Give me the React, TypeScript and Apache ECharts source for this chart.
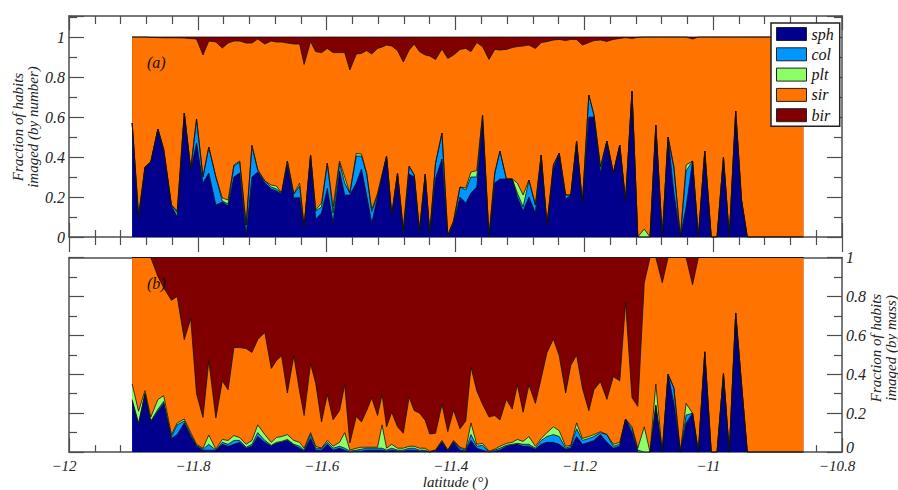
import React, { useEffect, useRef } from "react";
import * as echarts from "echarts";

// latitude of each sample (degrees)
const lat = [
  -11.902, -11.892, -11.882, -11.873, -11.862, -11.853, -11.841, -11.832, -11.821, -11.811,
  -11.802, -11.792, -11.783, -11.772, -11.762, -11.753, -11.744, -11.735, -11.725, -11.716,
  -11.707, -11.696, -11.686, -11.678, -11.67, -11.661, -11.651, -11.642, -11.635, -11.625,
  -11.617, -11.608, -11.599, -11.59, -11.58, -11.572, -11.564, -11.554, -11.546, -11.538,
  -11.53, -11.521, -11.514, -11.507, -11.499, -11.49, -11.481, -11.472, -11.464, -11.456,
  -11.447, -11.44, -11.431, -11.421, -11.412, -11.403, -11.393, -11.384, -11.376, -11.367,
  -11.358, -11.348, -11.339, -11.331, -11.321, -11.312, -11.304, -11.295, -11.286, -11.276,
  -11.267, -11.258, -11.248, -11.239, -11.229, -11.221, -11.212, -11.203, -11.193, -11.185,
  -11.175, -11.165, -11.155, -11.145, -11.136, -11.126, -11.117, -11.107, -11.098, -11.089,
  -11.079, -11.07, -11.061, -11.051, -11.042, -11.032, -11.023, -11.013, -11.003, -10.994,
  -10.984, -10.975, -10.965, -10.956, -10.947, -10.86,
];

// (a) fraction by number
const sphNum = [
  0.57, 0.09, 0.35, 0.375, 0.54, 0.43, 0.155, 0.1, 0.62, 0.335,
  0.47, 0.27, 0.32, 0.16, 0.175, 0.155, 0.3, 0.32, 0.01, 0.3,
  0.325, 0.27, 0.24, 0.23, 0.215, 0.36, 0.195, 0.197, 0.05, 0.41,
  0.09, 0.12, 0.243, 0.07, 0.33, 0.21, 0.21, 0.27, 0.34, 0.21,
  0.07, 0.2, 0.3, 0.405, 0.11, 0.32, 0.018, 0.315, 0.3, 0.015,
  0.315, 0.018, 0.293, 0.39, 0, 0.07, 0.2, 0.17, 0.22, 0.25,
  0.58, 0, 0.27, 0.29, 0.29, 0.29, 0.2, 0.13, 0.2, 0.12,
  0.41, 0.06, 0.34, 0.42, 0.19, 0.21, 0.48, 0.17, 0.6, 0.6,
  0.32, 0.48, 0.32, 0.46, 0.18, 0.73, 0, 0, 0, 0.56,
  0, 0.5, 0.22, 0, 0.15, 0.38, 0, 0.43, 0, 0,
  0.4, 0, 0.63, 0.185, 0, 0,
];
const colNum = [
  0, 0.01, 0, 0, 0, 0.01, 0.005, 0.025, 0, 0.005,
  0.12, 0.03, 0.13, 0.14, 0.005, 0.01, 0.055, 0.055, 0.05, 0.155,
  0.01, 0.01, 0.01, 0.01, 0.005, 0.02, 0.02, 0.058, 0, 0,
  0.04, 0.03, 0.127, 0.05, 0.04, 0.06, 0.01, 0.135, 0.065, 0.108,
  0.057, 0.01, 0.01, 0, 0, 0, 0.017, 0.037, 0.01, 0.02,
  0, 0, 0.075, 0.13, 0.01, 0.01, 0.05, 0.065, 0.08, 0.05,
  0.03, 0, 0.05, 0.14, 0, 0, 0.02, 0.02, 0.085, 0.04,
  0, 0, 0.02, 0, 0.02, 0, 0, 0, 0.11, 0.01,
  0.03, 0, 0, 0, 0, 0, 0, 0, 0, 0,
  0, 0, 0.13, 0, 0.18, 0, 0, 0, 0, 0,
  0, 0, 0, 0, 0, 0,
];
const pltNum = [
  0, 0.01, 0, 0, 0, 0, 0, 0.005, 0, 0,
  0, 0, 0, 0, 0.015, 0.02, 0.005, 0.005, 0, 0.005,
  0, 0, 0.01, 0.015, 0, 0, 0, 0.015, 0, 0,
  0.005, 0.02, 0, 0.03, 0.01, 0.03, 0, 0.013, 0.01, 0.002,
  0.008, 0.008, 0, 0, 0, 0, 0, 0.003, 0, 0,
  0, 0, 0, 0, 0, 0, 0, 0.01, 0.025, 0.032,
  0, 0, 0, 0, 0, 0, 0.05, 0.06, 0, 0,
  0, 0, 0, 0, 0, 0, 0, 0, 0, 0,
  0, 0, 0, 0, 0, 0, 0, 0.04, 0, 0,
  0, 0, 0, 0, 0.03, 0, 0, 0, 0, 0,
  0, 0, 0, 0, 0, 0,
];
const sirNum = [
  0.43, 0.89, 0.65, 0.623, 0.457, 0.556, 0.836, 0.866, 0.375, 0.652,
  0.4, 0.61, 0.53, 0.675, 0.75, 0.785, 0.62, 0.6, 0.91, 0.51,
  0.655, 0.685, 0.72, 0.72, 0.755, 0.59, 0.75, 0.695, 0.813, 0.567,
  0.792, 0.752, 0.573, 0.772, 0.542, 0.622, 0.615, 0.497, 0.503, 0.612,
  0.78, 0.725, 0.64, 0.555, 0.845, 0.612, 0.84, 0.58, 0.655, 0.892,
  0.595, 0.887, 0.52, 0.42, 0.883, 0.83, 0.688, 0.698, 0.602, 0.64,
  0.342, 0.888, 0.618, 0.505, 0.648, 0.657, 0.682, 0.745, 0.675, 0.783,
  0.562, 0.917, 0.625, 0.568, 0.772, 0.778, 0.508, 0.79, 0.262, 0.372,
  0.635, 0.498, 0.668, 0.533, 0.817, 0.263, 0.998, 0.96, 1, 0.44,
  1, 0.5, 0.65, 1, 0.64, 0.61, 1, 0.57, 1, 1,
  0.6, 1, 0.37, 0.815, 1, 1,
];
const birNum = [
  0, 0, 0, 0.002, 0.003, 0.004, 0.004, 0.004, 0.005, 0.008,
  0.01, 0.09, 0.02, 0.025, 0.055, 0.03, 0.02, 0.02, 0.03, 0.03,
  0.01, 0.035, 0.02, 0.025, 0.025, 0.03, 0.035, 0.035, 0.137, 0.023,
  0.073, 0.078, 0.057, 0.078, 0.078, 0.078, 0.165, 0.085, 0.082, 0.068,
  0.085, 0.057, 0.05, 0.04, 0.045, 0.068, 0.125, 0.065, 0.035, 0.073,
  0.09, 0.095, 0.112, 0.06, 0.107, 0.09, 0.062, 0.057, 0.073, 0.028,
  0.048, 0.112, 0.062, 0.065, 0.062, 0.053, 0.048, 0.045, 0.04, 0.057,
  0.028, 0.023, 0.015, 0.012, 0.018, 0.012, 0.012, 0.04, 0.028, 0.018,
  0.015, 0.022, 0.012, 0.007, 0.003, 0.007, 0.002, 0, 0, 0,
  0, 0, 0, 0, 0, 0.01, 0, 0, 0, 0,
  0, 0, 0, 0, 0, 0,
];

// (b) fraction by mass
const sphMass = [
  0.263, 0.14, 0.3, 0.155, 0.21, 0.25, 0.07, 0.09, 0.15, 0.08,
  0.03, 0.01, 0.01, 0.01, 0.04, 0.03, 0.04, 0.05, 0.02, 0.03,
  0.08, 0.05, 0.03, 0.045, 0.05, 0.06, 0.035, 0.02, 0.005, 0.07,
  0.01, 0.01, 0.04, 0.01, 0.02, 0.01, 0, 0.005, 0.005, 0.01,
  0.01, 0.01, 0.01, 0.005, 0.01, 0.005, 0.005, 0.01, 0.01, 0.005,
  0.005, 0, 0.005, 0.05, 0.005, 0.05, 0.01, 0.005, 0.06, 0.02,
  0.01, 0, 0.005, 0.01, 0.03, 0.035, 0.04, 0.03, 0.03, 0.015,
  0.04, 0.05, 0.05, 0.04, 0.015, 0.02, 0.08, 0.04, 0.05, 0.06,
  0.09, 0.05, 0.02, 0.03, 0.17, 0.1, 0, 0, 0, 0.24,
  0, 0.4, 0.25, 0, 0.15, 0.2, 0, 0.515, 0, 0,
  0.404, 0, 0.715, 0.35, 0, 0,
];
const colMass = [
  0.007, 0.01, 0, 0.005, 0.01, 0.01, 0.01, 0.05, 0.01, 0.01,
  0.005, 0.005, 0.03, 0, 0.01, 0.01, 0.02, 0.01, 0.005, 0.01,
  0.02, 0.01, 0.005, 0.005, 0.005, 0.005, 0.005, 0.01, 0.005, 0.02,
  0.01, 0.01, 0.01, 0.01, 0.01, 0.01, 0.005, 0.005, 0.01, 0.01,
  0.01, 0.01, 0.01, 0.005, 0.01, 0.005, 0.005, 0.01, 0.01, 0.005,
  0.005, 0, 0.005, 0.005, 0.005, 0.005, 0.01, 0.005, 0.03, 0.01,
  0.025, 0, 0.005, 0.01, 0.005, 0.005, 0.005, 0.01, 0.01, 0.005,
  0.02, 0.03, 0.04, 0.04, 0.005, 0.01, 0.04, 0.02, 0.02, 0.02,
  0.01, 0.04, 0.01, 0.01, 0, 0.02, 0.01, 0, 0, 0,
  0, 0, 0.08, 0, 0.04, 0, 0, 0, 0, 0,
  0, 0, 0, 0, 0, 0,
];
const pltMass = [
  0.08, 0.06, 0.016, 0.02, 0.05, 0.03, 0.01, 0.01, 0.01, 0.01,
  0.005, 0.005, 0.048, 0.005, 0.015, 0.02, 0.025, 0.015, 0.015, 0.02,
  0.04, 0.03, 0.015, 0.025, 0.025, 0.025, 0.02, 0.02, 0.01, 0.01,
  0.01, 0, 0.01, 0.01, 0.02, 0.08, 0.005, 0.01, 0.01, 0.005,
  0.005, 0.005, 0.12, 0.01, 0.02, 0.01, 0.01, 0.01, 0.01, 0.01,
  0.01, 0.005, 0, 0.005, 0, 0.005, 0.005, 0.005, 0.06, 0.01,
  0.01, 0.005, 0.005, 0.01, 0.01, 0.01, 0.02, 0.015, 0.04, 0.01,
  0.01, 0.02, 0.04, 0.03, 0.01, 0.005, 0.03, 0.01, 0.01, 0.01,
  0.005, 0, 0.01, 0.01, 0, 0.01, 0.01, 0.13, 0, 0.11,
  0, 0, 0, 0, 0.06, 0, 0, 0, 0, 0,
  0, 0, 0, 0, 0, 0,
];
const sirMass = [
  0.65, 0.79, 0.684, 0.82, 0.633, 0.555, 0.69, 0.65, 0.408, 0.587,
  0.26, 0.158, 0.382, 0.16, 0.301, 0.26, 0.452, 0.462, 0.492, 0.452,
  0.438, 0.525, 0.38, 0.395, 0.415, 0.214, 0.435, 0.262, 0.168, 0.354,
  0.324, 0.135, 0.236, 0.136, 0.163, 0.246, 0.037, 0.163, 0.13, 0.188,
  0.254, 0.163, 0.156, 0.11, 0.165, 0.11, 0.077, 0.253, 0.183, 0.181,
  0.143, 0.088, 0.087, 0.186, 0.095, 0.156, 0.095, 0.145, 0.287, 0.275,
  0.201, 0.175, 0.173, 0.135, 0.226, 0.171, 0.281, 0.15, 0.266, 0.22,
  0.309, 0.412, 0.451, 0.385, 0.274, 0.411, 0.349, 0.26, 0.133, 0.231,
  0.257, 0.181, 0.348, 0.316, 0.6, 0.15, 0.215, 0.74, 1, 0.65,
  0.87, 0.6, 0.67, 1, 0.75, 0.66, 1, 0.485, 1, 1,
  0.596, 1, 0.285, 0.65, 1, 1,
];
const birMass = [
  0, 0, 0, 0, 0.097, 0.155, 0.22, 0.2, 0.422, 0.313,
  0.7, 0.822, 0.53, 0.825, 0.634, 0.68, 0.463, 0.463, 0.468, 0.488,
  0.422, 0.385, 0.57, 0.53, 0.505, 0.696, 0.505, 0.688, 0.812, 0.546,
  0.646, 0.845, 0.704, 0.834, 0.787, 0.654, 0.953, 0.817, 0.845, 0.787,
  0.721, 0.812, 0.704, 0.87, 0.795, 0.87, 0.903, 0.717, 0.787, 0.799,
  0.837, 0.907, 0.903, 0.754, 0.895, 0.784, 0.88, 0.84, 0.563, 0.685,
  0.754, 0.82, 0.812, 0.835, 0.729, 0.779, 0.654, 0.795, 0.654, 0.75,
  0.621, 0.488, 0.419, 0.505, 0.696, 0.554, 0.501, 0.67, 0.787, 0.679,
  0.638, 0.729, 0.612, 0.634, 0.23, 0.72, 0.765, 0.13, 0, 0,
  0.13, 0, 0, 0, 0, 0.14, 0, 0, 0, 0,
  0, 0, 0, 0, 0, 0,
];

const habits = ["sph", "col", "plt", "sir", "bir"];
const habitColors = ["#00008c", "#0096ff", "#8cff66", "#ff7300", "#800000"];
const byNumber = [sphNum, colNum, pltNum, sirNum, birNum];
const byMass = [sphMass, colMass, pltMass, sirMass, birMass];

const FONT = "'Liberation Serif', 'Times New Roman', serif";
const TXT = "#222";
const AX = "#4d4d4d";

// cumulative (stacked) tops of each habit, bottom to top
function stackTops(parts: number[][]): number[][] {
  const out: number[][] = [];
  let run = lat.map(() => 0);
  parts.forEach((arr) => {
    run = run.map((v, i) => v + arr[i]);
    out.push(run.slice());
  });
  return out;
}

export default function App() {
  const ref = useRef<HTMLDivElement>(null);

  useEffect(() => {
    if (!ref.current) return;
    const chart = echarts.init(ref.current, null, { renderer: "svg" });

    const axLine = { show: true, onZero: false, lineStyle: { color: AX, width: 1.5 } };
    const tickLine = { color: AX, width: 1.2 };
    const xLabelFmt = (v: number) => {
      const r = Math.round(v * 10) / 10;
      return r < 0 ? "\u2212" + String(Math.abs(r)) : String(r);
    };
    const yLabelFmt = (v: number) => {
      if (v > 1.0001) return "";
      if (Math.abs(v) < 1e-6) return "0";
      if (Math.abs(v - 1) < 1e-6) return "1";
      return v.toFixed(1);
    };
    // right-hand labels of panel (b): lift the "0" a little off the x labels
    const yLabelFmtRight = (v: number) => {
      if (Math.abs(v) < 1e-6) return "{z|0}";
      return yLabelFmt(v);
    };
    const labelFont = { fontFamily: FONT, fontStyle: "italic" as const, color: TXT };

    const xBase = (grid: number, position: string, extra: any) => ({
      type: "value",
      gridIndex: grid,
      position,
      offset: 0,
      min: -12,
      max: -10.8,
      interval: 0.2,
      axisLine: axLine,
      splitLine: { show: false },
      axisLabel: { show: false },
      ...extra,
    });
    const yBase = (grid: number, position: string, max: number, extra: any) => ({
      type: "value",
      gridIndex: grid,
      position,
      offset: 0,
      min: 0,
      max,
      interval: 0.2,
      axisLine: axLine,
      splitLine: { show: false },
      axisTick: { show: true, inside: true, length: 15, lineStyle: tickLine },
      minorTick: { show: true, splitNumber: 2, length: 8, lineStyle: tickLine },
      axisLabel: { show: false },
      ...extra,
    });

    const common = {
      type: "line",
      symbol: "none",
      showSymbol: false,
      smooth: false,
      lineStyle: { color: "#111", width: 0.8 },
      emphasis: { disabled: true },
      silent: true,
    };

    const series: any[] = [];
    const addPanel = (parts: number[][], xi: number, yi: number) => {
      const tops = stackTops(parts);
      // paint top-most habit first so lower habits cover it (stacked look)
      for (let k = habits.length - 1; k >= 0; k--) {
        series.push({
          ...common,
          name: habits[k],
          xAxisIndex: xi,
          yAxisIndex: yi,
          itemStyle: { color: habitColors[k] },
          areaStyle: { color: habitColors[k], opacity: 1 },
          data: lat.map((x, i) => [x, tops[k][i]]),
        });
      }
    };
    addPanel(byNumber, 0, 0);
    addPanel(byMass, 3, 3);

    const option: any = {
      animation: false,
      backgroundColor: "#fff",
      grid: [
        { left: 69, right: 56, top: 16, height: 221 },
        { left: 69, right: 56, top: 257.5, height: 200.5 },
      ],
      xAxis: [
        xBase(0, "bottom", {
          axisTick: { show: true, inside: true, length: 14, lineStyle: tickLine },
          minorTick: { show: true, splitNumber: 5, length: 7, lineStyle: tickLine },
        }),
        xBase(0, "bottom", {
          axisLine: { show: false },
          axisTick: { show: true, inside: false, length: 15, lineStyle: tickLine },
          minorTick: { show: true, splitNumber: 5, length: 8, lineStyle: tickLine },
        }),
        xBase(0, "top", {
          axisTick: { show: true, inside: true, length: 14, lineStyle: tickLine },
          minorTick: { show: true, splitNumber: 5, length: 8, lineStyle: tickLine },
        }),
        xBase(1, "bottom", {
          axisTick: { show: true, inside: true, length: 14, lineStyle: tickLine },
          minorTick: { show: true, splitNumber: 5, length: 7, lineStyle: tickLine },
          axisLabel: {
            show: true,
            margin: 6,
            fontSize: 15,
            padding: [0, 10, 0, 0],
            formatter: xLabelFmt,
            ...labelFont,
          },
          name: "latitude (\u00b0)",
          nameLocation: "middle",
          nameGap: 20,
          nameTextStyle: { fontSize: 15, ...labelFont },
        }),
        xBase(1, "top", { axisTick: { show: false } }),
      ],
      yAxis: [
        yBase(0, "left", 1.105, {
          axisLabel: { show: true, margin: 4, fontSize: 16, formatter: yLabelFmt, showMaxLabel: false, ...labelFont },
        }),
        yBase(0, "right", 1.105, {}),
        yBase(1, "left", 1, {}),
        yBase(1, "right", 1, {
          axisLabel: {
            show: true,
            margin: 4,
            fontSize: 16,
            formatter: yLabelFmtRight,
            ...labelFont,
            rich: {
              z: {
                fontFamily: FONT,
                fontStyle: "italic",
                fontSize: 16,
                color: TXT,
                padding: [0, 0, 9, 0],
              },
            },
          },
        }),
      ],
      legend: {
        orient: "vertical",
        left: 771,
        top: 23,
        itemWidth: 30,
        itemHeight: 13,
        itemGap: 4.3,
        padding: [3, 6, 3, 5],
        backgroundColor: "#fff",
        borderColor: "#222",
        borderWidth: 1.5,
        borderRadius: 0,
        icon: "rect",
        selectedMode: false,
        itemStyle: { borderColor: "#222", borderWidth: 1 },
        textStyle: { fontFamily: FONT, fontStyle: "italic", fontSize: 16, color: "#111" },
        data: habits,
        z: 10,
      },
      graphic: [
        {
          type: "text",
          x: 147,
          y: 62,
          z: 100,
          style: {
            text: "(a)",
            font: `italic 16px ${FONT}`,
            fill: "#111",
            textAlign: "left",
            textVerticalAlign: "middle",
            align: "left",
            verticalAlign: "middle",
          },
        },
        {
          type: "text",
          x: 147,
          y: 283,
          z: 100,
          style: {
            text: "(b)",
            font: `italic 16px ${FONT}`,
            fill: "#111",
            textAlign: "left",
            textVerticalAlign: "middle",
            align: "left",
            verticalAlign: "middle",
          },
        },
        {
          type: "text",
          x: 25.5,
          y: 127,
          rotation: Math.PI / 2,
          z: 100,
          style: {
            text: "Fraction of habits\nimaged (by number)",
            font: `italic 15px ${FONT}`,
            lineHeight: 15,
            fill: TXT,
            textAlign: "center",
            textVerticalAlign: "middle",
            align: "center",
            verticalAlign: "middle",
          },
        },
        {
          type: "text",
          x: 883.5,
          y: 348,
          rotation: Math.PI / 2,
          z: 100,
          style: {
            text: "Fraction of habits\nimaged (by mass)",
            font: `italic 15px ${FONT}`,
            lineHeight: 15,
            fill: TXT,
            textAlign: "center",
            textVerticalAlign: "middle",
            align: "center",
            verticalAlign: "middle",
          },
        },
      ],
      series,
    };

    chart.setOption(option);
    return () => chart.dispose();
  }, []);

  return (
    <div style={{ position: "fixed", left: 0, top: 0, width: 898, height: 490, background: "#fff" }}>
      <div ref={ref} style={{ width: 898, height: 490 }} />
    </div>
  );
}
